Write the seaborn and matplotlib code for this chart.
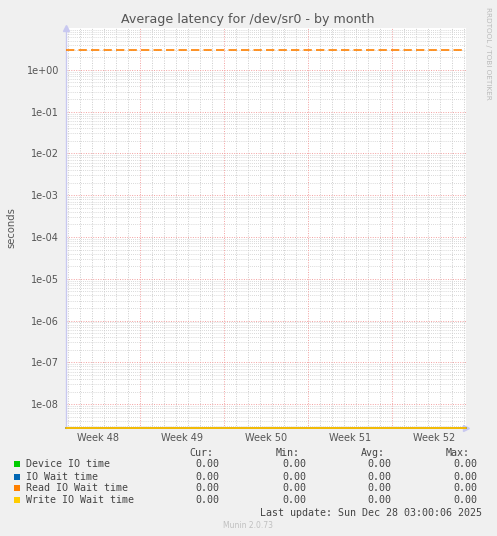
import matplotlib
matplotlib.use("Agg")
import matplotlib.pyplot as plt
import matplotlib.dates as mdates
from matplotlib.patches import Rectangle
from matplotlib.ticker import NullFormatter, FixedLocator
import seaborn as sns
import numpy as np
import pandas as pd

# data
series = ["Device IO time", "IO Wait time", "Read IO Wait time", "Write IO Wait time"]
colors = ["#00CC00", "#0066B3", "#FF8000", "#FFCC00"]
cur = [0.00, 0.00, 0.00, 0.00]
vmin = [0.00, 0.00, 0.00, 0.00]
vavg = [0.00, 0.00, 0.00, 0.00]
vmax = [0.00, 0.00, 0.00, 0.00]
warning = 3.0
weeks = ["Week 48", "Week 49", "Week 50", "Week 51", "Week 52"]
week_mondays = ["2025-11-24", "2025-12-01", "2025-12-08", "2025-12-15", "2025-12-22"]
t_start = pd.Timestamp("2025-11-24 19:24")
t_end = t_start + pd.Timedelta(hours=800)
y_top = 10.0
y_floor = 10 ** -8.57

W, H = 497, 536
sns.set_theme(style="white")
plt.rcParams["font.family"] = ["DejaVu Sans"]

fig = plt.figure(figsize=(W / 100, H / 100), dpi=100, facecolor="#F0F0F0")
ax = fig.add_axes([66 / W, 1 - 428 / H, 400 / W, 400 / H])
ax.set_facecolor("white")

times = pd.date_range(t_start, t_end, freq="2h")
rows = []
for name in series:
    for t in times:
        rows.append({"time": t, "value": 0.0, "series": name})
df = pd.DataFrame(rows)
df["plotted"] = df["value"].clip(lower=y_floor)

sns.lineplot(data=df, x="time", y="plotted", hue="series", palette=colors,
             ax=ax, legend=False, linewidth=1.1, zorder=5, clip_on=False)

ax.axhline(warning, color="#FF8000", linewidth=1.2, linestyle=(0, (5, 2.5)), zorder=6)

ax.set_yscale("log")
ax.set_ylim(y_floor, y_top)
ax.set_xlim(t_start, t_end)

# grids
gray = "#CCCCCC"
red = "#F3A0A0"
days = pd.date_range(t_start.normalize() + pd.Timedelta(days=1), t_end, freq="D")
mondays = pd.to_datetime(week_mondays)
for d in days:
    if d not in mondays:
        ax.axvline(d, color=gray, linewidth=0.7, linestyle=(0, (1, 1.5)), zorder=1)
for m in mondays:
    if m > t_start:
        ax.axvline(m, color=red, linewidth=0.7, linestyle=(0, (1, 1.5)), zorder=2)
for e in range(-9, 1):
    for k in range(2, 10):
        v = k * 10.0 ** e
        if y_floor < v < y_top:
            ax.axhline(v, color=gray, linewidth=0.6, linestyle=(0, (1, 1.5)), zorder=1)
for e in range(-8, 1):
    ax.axhline(10.0 ** e, color=red, linewidth=0.7, linestyle=(0, (1, 1.5)), zorder=2)

ax.yaxis.set_major_locator(FixedLocator([10.0 ** e for e in range(-8, 1)]))
ax.yaxis.set_minor_formatter(NullFormatter())
ax.yaxis.set_minor_locator(FixedLocator([]))
ax.set_yticklabels(["1e%+03d" % e for e in range(-8, 1)])
centers = mondays + pd.Timedelta(hours=84)
ax.xaxis.set_major_locator(FixedLocator(mdates.date2num(centers)))
ax.xaxis.set_minor_locator(FixedLocator(mdates.date2num(days)))
ax.set_xticklabels(weeks)
ax.tick_params(axis="both", which="major", labelsize=7.0, colors="#555555", length=0, pad=5)
ax.tick_params(axis="x", which="minor", length=2, color=gray, width=0.8)
ax.tick_params(axis="x", which="major", pad=3.5)

for s in ["top", "right", "bottom"]:
    ax.spines[s].set_visible(False)
ax.spines["left"].set_color("#C8C8F0")
ax.spines["left"].set_linewidth(1.0)
ax.set_xlabel("")
ax.set_ylabel("")

# axis arrows
ax.plot([0], [1.0], marker="^", color="#C8C8F0", markersize=5, transform=ax.transAxes, clip_on=False)
ax.plot([1.0], [0], marker=">", color="#C8C8F0", markersize=5, transform=ax.transAxes, clip_on=False)


def fx(x):
    return x / W


def fy(y):
    return 1 - y / H


fig.text(fx(248), fy(20), "Average latency for /dev/sr0 - by month", ha="center", va="center",
         fontsize=9.05, color="#555555")
fig.text(fx(11), fy(228), "seconds", rotation=90, ha="center", va="center", fontsize=7.2, color="#555555")
fig.text(fx(488), fy(53), "RRDTOOL / TOBI OETIKER", rotation=270, ha="center", va="center",
         fontsize=5.2, color="#BBBBBB")

mono = "DejaVu Sans Mono"
lc = "#444444"
fs = 7.2
col_hdr = [(213, "Cur:"), (299.5, "Min:"), (384.5, "Avg:"), (470, "Max:")]
col_val = [219.5, 306, 391, 477]
for x, h in col_hdr:
    fig.text(fx(x), fy(452.5), h, ha="right", va="center", family=mono, fontsize=fs, color=lc)
row_y = [464.3, 476.5, 488.3, 500.3]
for i, name in enumerate(series):
    y = row_y[i]
    fig.add_artist(Rectangle((fx(14), fy(y + 3)), 6 / W, 6 / H, transform=fig.transFigure,
                             facecolor=colors[i], edgecolor="none"))
    fig.text(fx(26), fy(y), name, ha="left", va="center", family=mono, fontsize=fs, color=lc)
    for x, v in zip(col_val, [cur[i], vmin[i], vavg[i], vmax[i]]):
        fig.text(fx(x), fy(y), "%.2f" % v, ha="right", va="center", family=mono, fontsize=fs, color=lc)
fig.text(fx(482.5), fy(512.5), "Last update: Sun Dec 28 03:00:06 2025", ha="right", va="center",
         family=mono, fontsize=fs, color=lc)
fig.text(fx(248), fy(525), "Munin 2.0.73", ha="center", va="center", fontsize=5.5, color="#C0C0C0")

fig.savefig("out.png", dpi=100, facecolor=fig.get_facecolor())
